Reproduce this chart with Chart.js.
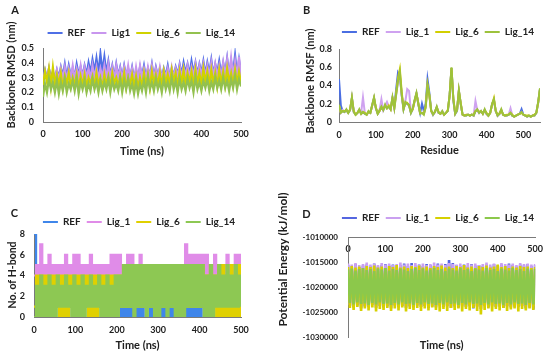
<!DOCTYPE html>
<html><head><meta charset="utf-8">
<script src="https://cdn.jsdelivr.net/npm/chart.js@4.4.1/dist/chart.umd.min.js"></script>
<style>
html,body{margin:0;padding:0;background:#fff;}
body{width:550px;height:355px;position:relative;overflow:hidden;}
canvas{position:absolute;display:block;}
</style></head><body>
<canvas id="cA" width="275" height="175" style="left:0;top:0"></canvas>
<canvas id="cB" width="275" height="175" style="left:275px;top:0"></canvas>
<canvas id="cC" width="275" height="180" style="left:0;top:175px"></canvas>
<canvas id="cD" width="275" height="180" style="left:275px;top:175px"></canvas>
<script>
// ---------- categories ----------
const TIME = [0,5,10,15,20,25,30,35,40,45,50,55,60,65,70,75,80,85,90,95,100,105,110,115,120,125,130,135,140,145,150,155,160,165,170,175,180,185,190,195,200,205,210,215,220,225,230,235,240,245,250,255,260,265,270,275,280,285,290,295,300,305,310,315,320,325,330,335,340,345,350,355,360,365,370,375,380,385,390,395,400,405,410,415,420,425,430,435,440,445,450,455,460,465,470,475,480,485,490,495,500];
const RESIDUE = [0,5,10,15,20,25,30,35,40,45,50,55,60,65,70,75,80,85,90,95,100,105,110,115,120,125,130,135,140,145,150,155,160,165,170,175,180,185,190,195,200,205,210,215,220,225,230,235,240,245,250,255,260,265,270,275,280,285,290,295,300,305,310,315,320,325,330,335,340,345,350,355,360,365,370,375,380,385,390,395,400,405,410,415,420,425,430,435,440,445,450,455,460,465,470,475,480,485,490,495,500,505,510,515,520,525,530,535,540,545];
const SERIES_A = ['REF','Lig1','Lig_6','Lig_14'];
const SERIES = ['REF','Lig_1','Lig_6','Lig_14'];

// ---------- A: backbone RMSD (nm) ----------
const A_REF = [0.30,0.35,0.29,0.36,0.30,0.34,0.29,0.35,0.30,0.37,
 0.31,0.39,0.30,0.38,0.31,0.36,0.30,0.39,0.32,0.37,
 0.31,0.38,0.32,0.40,0.33,0.42,0.34,0.43,0.33,0.46,
 0.34,0.44,0.33,0.41,0.31,0.38,0.30,0.39,0.31,0.37,
 0.30,0.38,0.31,0.36,0.30,0.37,0.29,0.35,0.30,0.37,
 0.31,0.38,0.30,0.36,0.31,0.39,0.30,0.37,0.31,0.36,
 0.30,0.36,0.31,0.38,0.30,0.36,0.31,0.37,0.32,0.39,
 0.32,0.40,0.33,0.39,0.32,0.41,0.33,0.40,0.32,0.39,
 0.33,0.41,0.32,0.40,0.33,0.42,0.32,0.39,0.33,0.41,
 0.32,0.40,0.33,0.43,0.32,0.41,0.33,0.45,0.32,0.42,0.33];
const A_LIG1 = [0.28,0.34,0.29,0.36,0.28,0.33,0.29,0.35,0.28,0.36,
 0.29,0.37,0.28,0.36,0.30,0.38,0.29,0.36,0.30,0.38,
 0.29,0.37,0.30,0.36,0.29,0.38,0.30,0.37,0.29,0.36,
 0.30,0.38,0.29,0.39,0.30,0.37,0.29,0.38,0.30,0.36,
 0.29,0.37,0.30,0.38,0.29,0.36,0.28,0.37,0.29,0.38,
 0.30,0.36,0.29,0.37,0.30,0.38,0.29,0.36,0.30,0.37,
 0.29,0.35,0.30,0.36,0.29,0.37,0.30,0.36,0.31,0.38,
 0.30,0.37,0.31,0.38,0.30,0.37,0.31,0.39,0.30,0.38,
 0.31,0.39,0.30,0.38,0.31,0.40,0.30,0.39,0.31,0.38,
 0.30,0.40,0.31,0.42,0.30,0.43,0.31,0.41,0.30,0.44,0.31];
const A_LIG6 = [0.25,0.34,0.27,0.36,0.24,0.37,0.26,0.32,0.25,0.33,
 0.23,0.31,0.26,0.33,0.24,0.30,0.25,0.32,0.23,0.31,
 0.25,0.32,0.24,0.30,0.26,0.31,0.24,0.33,0.25,0.30,
 0.23,0.32,0.25,0.31,0.24,0.33,0.26,0.30,0.24,0.31,
 0.25,0.33,0.23,0.30,0.25,0.32,0.24,0.31,0.23,0.30,
 0.24,0.33,0.25,0.32,0.23,0.34,0.26,0.32,0.25,0.33,
 0.24,0.34,0.26,0.32,0.25,0.35,0.27,0.33,0.24,0.34,
 0.26,0.35,0.25,0.33,0.27,0.34,0.24,0.35,0.26,0.33,
 0.25,0.36,0.27,0.34,0.25,0.35,0.26,0.33,0.24,0.35,
 0.26,0.34,0.25,0.36,0.27,0.33,0.25,0.35,0.26,0.34,0.27];
const A_LIG14 = [0.17,0.26,0.20,0.29,0.22,0.27,0.20,0.28,0.19,0.27,
 0.21,0.29,0.20,0.26,0.22,0.28,0.21,0.29,0.19,0.27,
 0.22,0.28,0.20,0.26,0.21,0.29,0.22,0.27,0.20,0.28,
 0.21,0.27,0.22,0.29,0.20,0.28,0.22,0.26,0.21,0.29,
 0.20,0.28,0.22,0.29,0.21,0.26,0.19,0.27,0.19,0.26,
 0.21,0.28,0.20,0.30,0.22,0.27,0.21,0.29,0.22,0.27,
 0.20,0.29,0.22,0.27,0.21,0.30,0.22,0.28,0.20,0.29,
 0.22,0.27,0.21,0.29,0.23,0.28,0.20,0.30,0.22,0.27,
 0.21,0.28,0.23,0.29,0.21,0.27,0.22,0.30,0.23,0.28,
 0.22,0.30,0.23,0.28,0.21,0.29,0.23,0.31,0.22,0.29,0.24];

// ---------- B: backbone RMSF (nm) per residue ----------
const B_REF = [0.47,0.18,0.12,0.11,0.13,0.10,0.13,0.26,0.11,0.08,
 0.10,0.13,0.09,0.11,0.09,0.08,0.11,0.10,0.18,0.26,
 0.15,0.09,0.12,0.16,0.13,0.18,0.15,0.17,0.14,0.26,
 0.16,0.36,0.54,0.50,0.30,0.14,0.21,0.20,0.18,0.10,
 0.14,0.23,0.31,0.20,0.10,0.20,0.12,0.20,0.47,0.32,
 0.12,0.08,0.11,0.16,0.10,0.09,0.11,0.08,0.10,0.12,
 0.29,0.59,0.24,0.09,0.12,0.34,0.20,0.08,0.07,0.07,
 0.08,0.07,0.08,0.07,0.12,0.13,0.10,0.12,0.09,0.13,
 0.09,0.07,0.10,0.19,0.24,0.12,0.07,0.09,0.13,0.08,
 0.07,0.07,0.08,0.10,0.07,0.06,0.07,0.08,0.09,0.14,
 0.08,0.07,0.06,0.07,0.06,0.07,0.07,0.10,0.21,0.36];
const B_LIG1 = [0.17,0.10,0.13,0.11,0.13,0.11,0.13,0.26,0.11,0.09,
 0.10,0.13,0.10,0.27,0.10,0.08,0.11,0.10,0.18,0.26,
 0.15,0.10,0.13,0.25,0.13,0.18,0.22,0.17,0.14,0.26,
 0.15,0.30,0.44,0.52,0.29,0.15,0.23,0.36,0.34,0.11,
 0.15,0.23,0.31,0.20,0.09,0.10,0.09,0.16,0.39,0.29,
 0.12,0.08,0.11,0.16,0.10,0.09,0.12,0.08,0.10,0.12,
 0.29,0.58,0.24,0.09,0.13,0.34,0.20,0.08,0.07,0.08,
 0.08,0.07,0.08,0.07,0.23,0.13,0.10,0.12,0.09,0.13,
 0.09,0.07,0.10,0.19,0.25,0.12,0.07,0.09,0.13,0.08,
 0.07,0.07,0.08,0.15,0.07,0.06,0.07,0.08,0.09,0.11,
 0.08,0.07,0.06,0.07,0.06,0.07,0.07,0.10,0.21,0.36];
const B_LIG6 = [0.18,0.11,0.12,0.12,0.13,0.10,0.14,0.26,0.12,0.08,
 0.10,0.13,0.09,0.11,0.10,0.08,0.11,0.10,0.18,0.26,
 0.16,0.09,0.12,0.16,0.14,0.18,0.15,0.18,0.14,0.26,
 0.16,0.32,0.48,0.58,0.33,0.15,0.21,0.21,0.18,0.11,
 0.14,0.23,0.31,0.21,0.10,0.10,0.09,0.17,0.41,0.29,
 0.12,0.09,0.11,0.16,0.11,0.09,0.11,0.08,0.10,0.13,
 0.29,0.59,0.26,0.10,0.13,0.34,0.21,0.08,0.07,0.08,
 0.08,0.07,0.08,0.08,0.12,0.13,0.11,0.12,0.09,0.13,
 0.10,0.07,0.10,0.19,0.26,0.12,0.08,0.09,0.13,0.08,
 0.07,0.08,0.08,0.10,0.08,0.06,0.07,0.08,0.09,0.10,
 0.08,0.07,0.07,0.07,0.06,0.07,0.08,0.10,0.21,0.36];
const B_LIG14 = [0.19,0.10,0.12,0.11,0.14,0.10,0.13,0.27,0.11,0.08,
 0.10,0.14,0.09,0.11,0.09,0.08,0.12,0.10,0.19,0.27,
 0.15,0.09,0.13,0.17,0.13,0.19,0.15,0.17,0.14,0.27,
 0.15,0.30,0.45,0.55,0.30,0.14,0.22,0.20,0.19,0.10,
 0.15,0.24,0.32,0.20,0.09,0.10,0.08,0.16,0.40,0.30,
 0.13,0.08,0.11,0.17,0.10,0.09,0.12,0.08,0.10,0.12,
 0.30,0.60,0.25,0.09,0.13,0.35,0.20,0.08,0.07,0.07,
 0.08,0.07,0.08,0.07,0.12,0.14,0.10,0.12,0.09,0.14,
 0.09,0.07,0.10,0.20,0.25,0.12,0.07,0.09,0.14,0.08,
 0.07,0.07,0.08,0.10,0.07,0.06,0.07,0.08,0.09,0.11,
 0.08,0.07,0.06,0.07,0.06,0.07,0.07,0.10,0.22,0.37];

// ---------- C: number of H-bonds ----------
const C_REF = [8,2,0,3,1,2,0,3,1,2, 1,3,1,2,1,3,1,2,1,3, 1,2,1,3,1,2,1,3,1,2, 1,3,1,2,1,3,1,2,1,3,
 1,2,0,3,0,3,0,2,0,3, 0,2,0,3,1,3,0,2,0,3, 0,2,0,3,0,2,0,3,0,2, 0,3,0,2,0,3,0,2,0,3,
 0,2,1,3,1,2,1,3,1,2, 1,3,1,2,1,3,1,2,1,3, 1];
const C_LIG1 = [4,5,4,7,4,5,4,6,4,5, 4,5,4,5,3,6,4,5,4,6, 4,6,4,5,4,5,4,6,4,5, 4,5,3,5,3,5,3,6,3,6,
 4,6,4,5,4,6,4,6,4,5, 4,6,4,5,4,5,4,5,4,5, 4,5,4,5,4,5,4,5,4,5, 4,5,4,7,5,6,5,6,5,6,
 5,6,4,6,4,5,4,6,4,5, 4,5,4,6,4,5,4,6,4,6, 4];
const C_LIG6 = [1,4,1,4,1,4,1,4,1,4, 1,4,0,4,0,4,0,4,1,4, 1,4,1,4,1,4,0,4,0,4, 0,4,1,4,1,4,1,4,1,4,
 1,4,1,5,1,4,1,5,1,5, 1,4,1,5,1,4,1,5,1,4, 1,5,1,4,1,5,1,4,1,5, 1,4,1,5,1,4,1,5,1,4,
 1,5,1,4,1,5,1,4,0,5, 0,5,0,4,0,5,0,4,0,5, 0];
const C_LIG14 = [0,3,0,4,0,3,0,4,0,3, 0,4,1,3,1,4,1,3,0,4, 0,3,0,4,0,3,1,4,1,3, 1,4,0,3,0,4,0,3,0,4,
 0,4,1,5,1,5,1,5,0,5, 1,5,1,5,0,5,1,5,0,5, 0,5,1,5,0,5,1,5,0,5, 0,5,0,5,1,5,1,5,1,5,
 1,5,0,4,0,5,0,4,1,5, 1,4,1,5,1,4,1,5,1,4, 1];

// ---------- D: potential energy (kJ/mol) ----------
const D_REF = [-1015600,-1023800,-1015900,-1024100,-1015400,-1023700,-1016000,-1024300,-1015700,-1023900,
 -1015500,-1024000,-1015800,-1023600,-1015300,-1024200,-1015900,-1023800,-1015600,-1024100,
 -1015400,-1023900,-1015700,-1024300,-1015500,-1023700,-1015900,-1024000,-1015600,-1023800,
 -1015300,-1024200,-1015800,-1023900,-1015200,-1024100,-1015700,-1023700,-1015500,-1024000,
 -1015800,-1023800,-1015400,-1024200,-1015600,-1023900,-1015900,-1024100,-1015300,-1023700,
 -1015700,-1024000,-1015400,-1023800,-1014600,-1024200,-1015200,-1023900,-1015600,-1024100,
 -1015800,-1023700,-1015500,-1024000,-1015900,-1023800,-1015400,-1024300,-1015700,-1023900,
 -1015600,-1024400,-1015800,-1023800,-1015500,-1024100,-1015900,-1023700,-1015400,-1024000,
 -1015700,-1023900,-1015500,-1024200,-1015800,-1023800,-1015300,-1024100,-1015600,-1023900,
 -1015900,-1024000,-1015500,-1023800,-1015700,-1024300,-1015400,-1024100,-1015800,-1024500,-1015600];
const D_LIG1 = [-1015300,-1023600,-1015500,-1023900,-1015200,-1023500,-1015600,-1023800,-1015400,-1023700,
 -1015100,-1023900,-1015500,-1023600,-1015300,-1024000,-1015600,-1023700,-1015200,-1023800,
 -1015500,-1023600,-1015300,-1023900,-1015600,-1023500,-1015400,-1023800,-1015100,-1023700,
 -1015500,-1023900,-1015300,-1023600,-1015600,-1023800,-1015200,-1023700,-1015500,-1024000,
 -1015300,-1023600,-1015600,-1023800,-1015400,-1023900,-1015100,-1023700,-1015500,-1023600,
 -1015300,-1023800,-1015600,-1023900,-1015200,-1023700,-1015400,-1023600,-1015500,-1023800,
 -1015300,-1023900,-1015600,-1023700,-1015200,-1023800,-1015500,-1023600,-1015300,-1023900,
 -1015600,-1023700,-1015400,-1023800,-1015100,-1023600,-1015500,-1023900,-1015300,-1023700,
 -1015600,-1023800,-1015200,-1023600,-1015400,-1023900,-1015500,-1023700,-1015300,-1023800,
 -1015600,-1023600,-1015200,-1023900,-1015400,-1023700,-1015300,-1024000,-1015500,-1023800,-1015400];
const D_LIG6 = [-1016000,-1024200,-1015800,-1024600,-1016100,-1024000,-1015900,-1024800,-1016200,-1024300,
 -1015800,-1024700,-1016000,-1024100,-1015700,-1024900,-1016100,-1024400,-1015900,-1024600,
 -1016200,-1024200,-1015800,-1024800,-1016000,-1024300,-1015600,-1024700,-1016100,-1024100,
 -1015900,-1024900,-1016200,-1024400,-1015800,-1024600,-1016000,-1024200,-1015700,-1024800,
 -1016100,-1024300,-1015900,-1024700,-1016200,-1024100,-1015800,-1024600,-1016000,-1024900,
 -1015700,-1024400,-1016100,-1024800,-1015900,-1024200,-1016200,-1024600,-1015800,-1024300,
 -1016000,-1024900,-1015600,-1024400,-1016100,-1024700,-1015900,-1024200,-1016200,-1024800,
 -1015800,-1025500,-1016000,-1024600,-1015700,-1024300,-1016100,-1024900,-1015900,-1024400,
 -1015500,-1024700,-1016000,-1024200,-1015800,-1024800,-1016200,-1024500,-1015900,-1024300,
 -1016100,-1024900,-1015800,-1024400,-1016000,-1024700,-1015900,-1024300,-1016200,-1024600,-1016000];
const D_LIG14 = [-1016500,-1023200,-1016300,-1023500,-1016700,-1023100,-1016400,-1023400,-1016200,-1023300,
 -1016600,-1023600,-1016400,-1023200,-1016800,-1023500,-1016300,-1023100,-1016500,-1023400,
 -1016200,-1023300,-1016700,-1023600,-1016400,-1023200,-1016600,-1023500,-1016300,-1023100,
 -1016500,-1023400,-1016800,-1023300,-1016400,-1023600,-1016200,-1023200,-1016600,-1023500,
 -1016300,-1023100,-1016700,-1023400,-1016500,-1023300,-1016200,-1023600,-1016600,-1023200,
 -1016400,-1023500,-1016800,-1023100,-1016300,-1023400,-1016500,-1023300,-1016700,-1023600,
 -1016200,-1023200,-1016600,-1023500,-1016400,-1023100,-1016800,-1023400,-1016300,-1023300,
 -1016500,-1023600,-1016700,-1023200,-1016200,-1023500,-1016600,-1023100,-1016400,-1023400,
 -1016800,-1023300,-1016300,-1023600,-1016500,-1023200,-1016700,-1023500,-1016200,-1023100,
 -1016600,-1023400,-1016400,-1023300,-1016800,-1023600,-1016300,-1023200,-1016500,-1023500,-1016400];

// ---------- styling ----------
const FONT = 'Lato, "Liberation Sans", sans-serif';
const TXT = '#202020';
const AXC = '#7a7a7a';
Chart.defaults.font.family = FONT;
Chart.defaults.font.weight = 'bold';
Chart.defaults.color = TXT;

const baseGen = Chart.defaults.plugins.legend.labels.generateLabels;

const panelDeco = {
  id: 'panelDeco',
  afterInit(chart, args, o) {
    if (chart.legend && o.legendExtra) {
      const lg = chart.legend, fit = lg.fit;
      lg.fit = function () { fit.call(this); this.height += o.legendExtra; };
    }
  },
  afterDraw(chart, args, o) {
    const ctx = chart.ctx;
    ctx.save();
    ctx.fillStyle = TXT;
    ctx.textBaseline = 'middle';
    ctx.textAlign = 'center';
    ctx.font = 'bold ' + o.letterSize + 'px ' + FONT;
    ctx.fillText(o.letter, o.lx, o.ly);
    ctx.translate(o.tx, o.ty);
    ctx.rotate(-Math.PI / 2);
    ctx.font = 'bold ' + o.titleSize + 'px ' + FONT;
    ctx.fillText(o.yTitle, 0, 0);
    ctx.restore();
  }
};

function legendOpts() {
  return {
    position: 'top', align: 'end',
    labels: {
      usePointStyle: true, pointStyle: 'line', pointStyleWidth: 15,
      padding: 6, color: TXT, font: { size: 10, weight: 'bold' },
      sort: (a, b) => a.datasetIndex - b.datasetIndex,
      generateLabels(chart) { return baseGen(chart).map(it => Object.assign(it, { lineWidth: 2 })); }
    }
  };
}
function ds(label, data, color, order, width, extra) {
  return Object.assign({ label, data, borderColor: color, backgroundColor: color,
    borderWidth: width, pointRadius: 0, pointHoverRadius: 0, tension: 0, fill: false, order }, extra || {});
}
function xAxis(max, title, tickPad, titlePadBottom, h) {
  return {
    type: 'linear', min: 0, max: max,
    ticks: { stepSize: 100, includeBounds: false, padding: tickPad, maxRotation: 0, autoSkip: false, color: TXT, font: { size: 9, weight: 'bold' } },
    grid: { display: false, drawTicks: false },
    border: { display: true, color: AXC, width: 1 },
    title: { display: true, text: title, color: TXT, font: { size: 11, weight: 'bold' }, padding: { top: 0, bottom: titlePadBottom } },
    afterFit(s) { s.height = h; }
  };
}
function yAxis(min, max, step, tickPad, w, fsize, cb) {
  const t = { stepSize: step, padding: tickPad, color: TXT, font: { size: fsize, weight: 'bold' } };
  if (cb) t.callback = cb;
  return {
    min: min, max: max, ticks: t,
    grid: { display: false, drawTicks: false },
    border: { display: true, color: AXC, width: 1 },
    afterFit(s) { s.width = w; }
  };
}
const common = { responsive: false, animation: false, events: [] };

// ---------- A ----------
const colA = ['#4f6fe6', '#c896ee', '#d0d200', '#93c14f'];
new Chart(document.getElementById('cA'), {
  type: 'line',
  data: { labels: TIME, datasets: [
    ds(SERIES_A[0], A_REF, colA[0], 4, 2.2), ds(SERIES_A[1], A_LIG1, colA[1], 3, 2.2),
    ds(SERIES_A[2], A_LIG6, colA[2], 2, 2.2), ds(SERIES_A[3], A_LIG14, colA[3], 1, 2.2)] },
  options: Object.assign({}, common, {
    layout: { padding: { left: 0, right: 34, top: 22, bottom: 0 } },
    plugins: { legend: legendOpts(), tooltip: { enabled: false },
      panelDeco: { letter: 'A', lx: 15, ly: 10, letterSize: 11, yTitle: 'Backbone RMSD (nm)', tx: 11, ty: 75, titleSize: 11, legendExtra: 0 } },
    scales: { x: xAxis(500, 'Time (ns)', 7, 17, 53), y: yAxis(0, 0.5, 0.1, 9, 43, 9) }
  }),
  plugins: [panelDeco]
});

// ---------- B ----------
const colB = ['#4a6ee2', '#cfa2f0', '#d2cf00', '#9dc23c'];
new Chart(document.getElementById('cB'), {
  type: 'line',
  data: { labels: RESIDUE, datasets: [
    ds(SERIES[0], B_REF, colB[0], 4, 2), ds(SERIES[1], B_LIG1, colB[1], 3, 2),
    ds(SERIES[2], B_LIG6, colB[2], 2, 2), ds(SERIES[3], B_LIG14, colB[3], 1, 2)] },
  options: Object.assign({}, common, {
    layout: { padding: { left: 0, right: 10, top: 21, bottom: 0 } },
    plugins: { legend: legendOpts(), tooltip: { enabled: false },
      panelDeco: { letter: 'B', lx: 31.5, ly: 10, letterSize: 11, yTitle: 'Backbone RMSF (nm)', tx: 35, ty: 81, titleSize: 11, legendExtra: 2 } },
    scales: { x: xAxis(545, 'Residue', 8, 18, 53), y: yAxis(0, 0.8, 0.2, 7, 64, 9) }
  }),
  plugins: [panelDeco]
});

// ---------- C ----------
const colC = ['#3f86ea', '#e08ce8', '#e0d000', '#8dc853'];
new Chart(document.getElementById('cC'), {
  type: 'line',
  data: { labels: TIME, datasets: [
    ds(SERIES[0], C_REF, colC[0], 4, 2.2, { stepped: true }), ds(SERIES[1], C_LIG1, colC[1], 3, 2.2, { stepped: true }),
    ds(SERIES[2], C_LIG6, colC[2], 2, 2.2, { stepped: true }), ds(SERIES[3], C_LIG14, colC[3], 1, 2.2, { stepped: true })] },
  options: Object.assign({}, common, {
    layout: { padding: { left: 0, right: 34, top: 36, bottom: 0 } },
    plugins: { legend: legendOpts(), tooltip: { enabled: false },
      panelDeco: { letter: 'C', lx: 14.5, ly: 38, letterSize: 11, yTitle: 'No. of H-bond', tx: 12.5, ty: 100, titleSize: 10.5, legendExtra: -3 } },
    scales: { x: xAxis(500, 'Time (ns)', 8, 3.4, 38), y: yAxis(0, 8, 2, 9, 34, 9) }
  }),
  plugins: [panelDeco]
});

// ---------- D ----------
const colD = ['#5566e0', '#caa0f0', '#d6d000', '#8cc84b'];
const xD = xAxis(500, 'Time (ns)', 7, 0, 20);
xD.position = { y: -1010000 };
xD.title = { display: false };
delete xD.afterFit;
new Chart(document.getElementById('cD'), {
  type: 'line',
  data: { labels: TIME, datasets: [
    ds(SERIES[0], D_REF, colD[0], 4, 2.6, { xAxisID: 'x' }), ds(SERIES[1], D_LIG1, colD[1], 3, 2.6, { xAxisID: 'x' }),
    ds(SERIES[2], D_LIG6, colD[2], 2, 2.6, { xAxisID: 'x' }), ds(SERIES[3], D_LIG14, colD[3], 1, 2.6, { xAxisID: 'x' })] },
  options: Object.assign({}, common, {
    layout: { padding: { left: 0, right: 10, top: 32, bottom: 0 } },
    plugins: { legend: legendOpts(), tooltip: { enabled: false },
      panelDeco: { letter: 'D', lx: 31.5, ly: 39, letterSize: 11, yTitle: 'Potential Energy (kJ/mol)', tx: 8, ty: 84.5, titleSize: 12, legendExtra: 4 } },
    scales: {
      x: xD,
      x2: { type: 'linear', position: 'bottom', min: 0, max: 500,
        ticks: { display: false }, grid: { display: false, drawTicks: false }, border: { display: false },
        title: { display: true, text: 'Time (ns)', color: TXT, font: { size: 11, weight: 'bold' }, padding: { top: 0, bottom: 3.4 } },
        afterFit(s) { s.height = 18; } },
      y: yAxis(-1030000, -1010000, 5000, 10, 73, 8, v => String(v))
    }
  }),
  plugins: [panelDeco]
});
</script>
</body></html>
